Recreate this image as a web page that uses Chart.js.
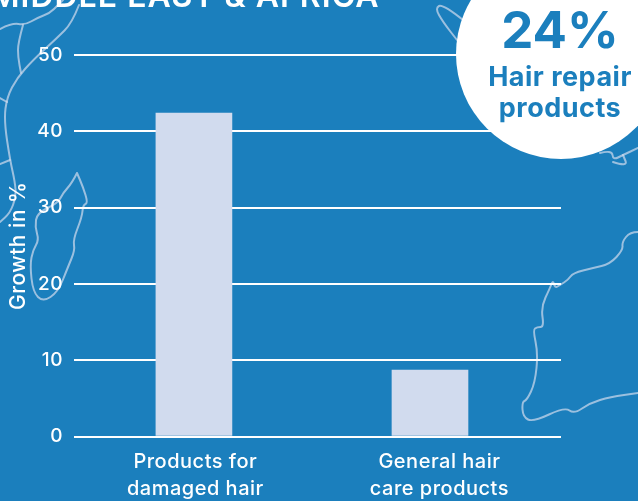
<!DOCTYPE html>
<html lang="en">
<head>
  <meta charset="UTF-8">
  <title>Middle East & Africa</title>
  <script src="https://cdn.jsdelivr.net/npm/chart.js@4"></script>
  <style>
    html, body { margin: 0; padding: 0; background: #1b7fbd; overflow: hidden; }
    canvas { display: block; }
  </style>
</head>
<body>
  <canvas id="chart" width="638" height="501"></canvas>

  <script>
    const categories = [['Products for', 'damaged hair'], ['General hair', 'care products']];
    const growth = [42.4, 8.7];
    const yTicks = [0, 10, 20, 30, 40, 50];
    // labels in the source do not sit exactly under their bars
    const labelAt = [0.006, 1.04];

    const FONT = 'Inter, sans-serif';
    const BLUE = '#1b7fbd';

    // background map outlines, picture coordinates
    const coast = [
      [[79,5],[72,23],[57,38],[33,60],[17,78],[7,97],[4,120],[10,160],[15,182],[16,197],[10,213],[0,222]],
      [[0,29],[12,23],[25,25],[37,18],[50,13],[58,5],[63,0]],
      [[23,25],[18,43],[18,57],[21,73]],
      [[0,98],[7,102]],
      [[0,164],[10,160]],
      [[77,173],[72,183],[63,193],[58,203],[37,213],[35,227],[39,240],[33,250],[30,265],[33,292],[43,302],[58,292],[68,267],[75,250],[73,240],[82,217],[83,205],[88,203],[83,187],[77,173]],
      [[463,20],[443,4],[435,8],[443,22],[457,40]],
      [[600,153],[612,150],[613,160],[623,155],[638,148]],
      [[613,162],[628,167],[623,155]],
      [[638,232],[630,232],[622,242],[623,250],[610,264],[593,268],[573,273],[568,280],[560,285],[555,288],[553,280],[550,288],[541,307],[544,327],[537,327],[533,330],[538,353],[535,383],[527,400],[522,402],[523,417],[533,422],[565,407],[574,414],[590,403],[610,397],[638,393]]
    ];

    const backdrop = {
      id: 'backdrop',
      beforeDraw(chart) {
        const ctx = chart.ctx;
        ctx.save();
        ctx.fillStyle = BLUE;
        ctx.fillRect(0, 0, chart.width, chart.height);
        ctx.strokeStyle = 'rgba(209, 219, 238, 0.7)';
        ctx.lineWidth = 2;
        ctx.lineJoin = 'round';
        ctx.lineCap = 'round';
        coast.forEach(line => {
          ctx.beginPath();
          ctx.moveTo(line[0][0], line[0][1]);
          // round off the corners through the midpoints
          for (let i = 1; i < line.length - 1; i++) {
            ctx.quadraticCurveTo(line[i][0], line[i][1], (line[i][0] + line[i + 1][0]) / 2, (line[i][1] + line[i + 1][1]) / 2);
          }
          const last = line[line.length - 1];
          ctx.lineTo(last[0], last[1]);
          ctx.stroke();
        });
        ctx.restore();
        // the source face is wider than anything installed
        ctx.letterSpacing = '0.5px';
      }
    };

    const overlay = {
      id: 'overlay',
      afterDraw(chart) {
        const ctx = chart.ctx;
        ctx.save();
        ctx.textBaseline = 'alphabetic';

        // title, cut off by the top edge like in the source
        ctx.fillStyle = '#ffffff';
        ctx.textAlign = 'left';
        ctx.letterSpacing = '1px';
        ctx.font = '600 32px ' + FONT;
        ctx.fillText('MIDDLE EAST & AFRICA', -10, 7);

        ctx.beginPath();
        ctx.arc(561, 54, 105, 0, Math.PI * 2);
        ctx.fill();

        ctx.fillStyle = BLUE;
        ctx.textAlign = 'center';
        ctx.letterSpacing = '0px';
        ctx.font = '700 51px ' + FONT;
        ctx.fillText('24%', 560, 48);
        ctx.letterSpacing = '0.5px';
        ctx.font = '700 27px ' + FONT;
        ctx.fillText('Hair repair', 560, 86);
        ctx.fillText('products', 560, 117);
        ctx.restore();
      }
    };

    new Chart(document.getElementById('chart'), {
      type: 'bar',
      data: {
        datasets: [{
          data: growth.map((v, i) => ({ x: i, y: v })),
          backgroundColor: '#d1dbee',
          barThickness: 76
        }]
      },
      options: {
        responsive: false,
        animation: false,
        layout: { padding: { top: 55, right: 77, left: 0, bottom: 0 } },
        plugins: { legend: { display: false }, tooltip: { enabled: false } },
        scales: {
          x: {
            type: 'linear',
            offset: false,
            min: -0.508,
            max: 1.555,
            afterBuildTicks: axis => { axis.ticks = labelAt.map(value => ({ value })); },
            afterFit: axis => { axis.height = 64.5; },
            grid: { display: false },
            border: { display: false },
            ticks: {
              callback: (value, index) => categories[index],
              color: '#ffffff',
              padding: 4,
              maxRotation: 0,
              font: { family: FONT, size: 20, weight: 500, lineHeight: 1.35 }
            }
          },
          y: {
            min: 0,
            max: 50,
            afterBuildTicks: axis => { axis.ticks = yTicks.map(value => ({ value })); },
            afterFit: axis => { axis.width = 74; },
            grid: { color: '#ffffff', lineWidth: 2, drawTicks: false },
            border: { display: false },
            title: {
              display: true,
              text: 'Growth in %',
              color: '#ffffff',
              padding: { top: 6, bottom: 0 },
              font: { family: FONT, size: 21, weight: 500 }
            },
            ticks: {
              color: '#ffffff',
              padding: 11,
              font: { family: FONT, size: 19, weight: 500 }
            }
          }
        }
      },
      plugins: [backdrop, overlay]
    });
  </script>
</body>
</html>
